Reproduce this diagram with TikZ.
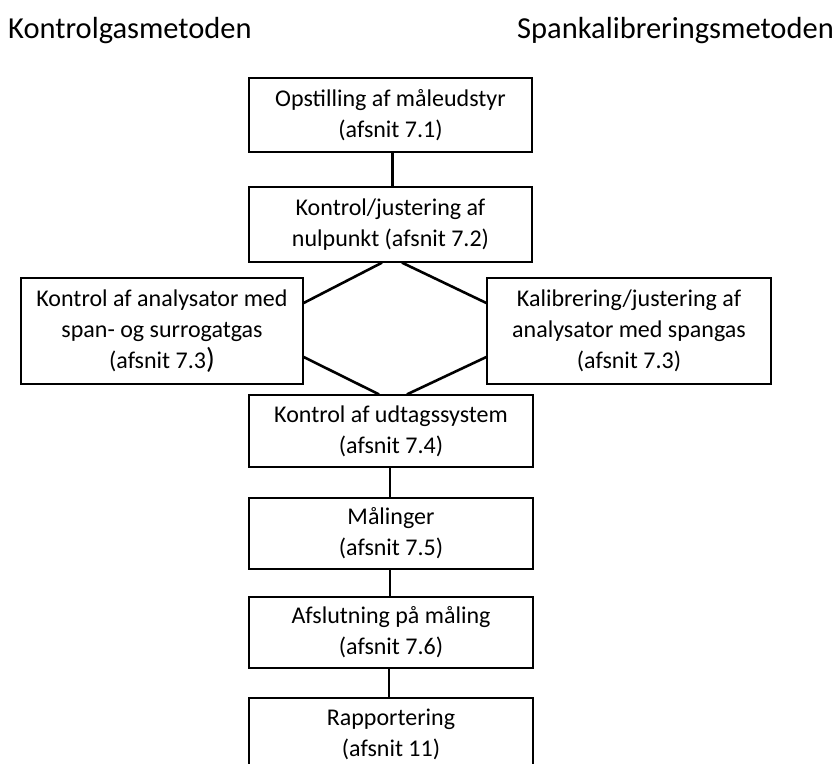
\documentclass[tikz,border=0pt]{standalone}
\usepackage{fontspec}
\setmainfont{Carlito}
\begin{document}
\begin{tikzpicture}[x=1pt,y=-1pt,
 box/.style={draw, line width=1.3pt, align=center, inner sep=0pt, minimum width=283pt, font=\fontsize{24}{31}\selectfont},
 conn/.style={line width=2.6pt},
 title/.style={inner sep=0pt, font=\fontsize{30.5}{36}\selectfont}]
\useasboundingbox (0,0) rectangle (837,763);
\clip (0,0) rectangle (837,763);
\node[title, anchor=base west] (t1) at (8,38) {Kontrolgasmetoden};
\node[title, anchor=base east] (t2) at (834,38) {Spankalibreringsmetoden};
\node[box, minimum height=74pt] (b1) at (390.5,115) {Opstilling af måleudstyr\\(afsnit 7.1)};
\node[box, minimum height=75pt] (b2) at (390.5,224.5) {Kontrol/justering af\\nulpunkt (afsnit 7.2)};
\node[box, minimum width=282pt, minimum height=106pt] (L) at (162,331) {Kontrol af analysator med\\span- og surrogatgas\\(afsnit 7.3{\fontsize{29}{31}\selectfont )}};
\node[box, minimum width=284pt, minimum height=106pt] (R) at (629,331) {Kalibrering/justering af\\analysator med spangas\\(afsnit 7.3)};
\node[box, minimum width=284pt, minimum height=72pt] (b4) at (391,431) {Kontrol af udtagssystem\\(afsnit 7.4)};
\node[box, minimum width=284pt, minimum height=71pt] (b5) at (391,533.5) {Målinger\\(afsnit 7.5)};
\node[box, minimum width=284pt, minimum height=71pt] (b6) at (391,632.5) {Afslutning på måling\\(afsnit 7.6)};
\node[box, minimum width=284pt, minimum height=72pt] (b7) at (391,734) {Rapportering\\(afsnit 11)};
\draw[conn] ([xshift=2pt]b1.south) -- ([xshift=2pt]b2.north);
\draw[conn] ([yshift=28pt]L.east) -- ([xshift=-8.5pt]b2.south);
\draw[conn] ([yshift=28pt]R.west) -- ([xshift=11.5pt]b2.south);
\draw[conn] ([yshift=-26pt]L.east) -- ([xshift=-12pt]b4.north);
\draw[conn] ([yshift=-26pt]R.west) -- ([xshift=16pt]b4.north);
\draw[conn] ([xshift=-1pt]b4.south) -- ([xshift=-1pt]b5.north);
\draw[conn] ([xshift=-1pt]b5.south) -- ([xshift=-1pt]b6.north);
\draw[conn] ([xshift=-2pt]b6.south) -- ([xshift=-2pt]b7.north);
\end{tikzpicture}
\end{document}
